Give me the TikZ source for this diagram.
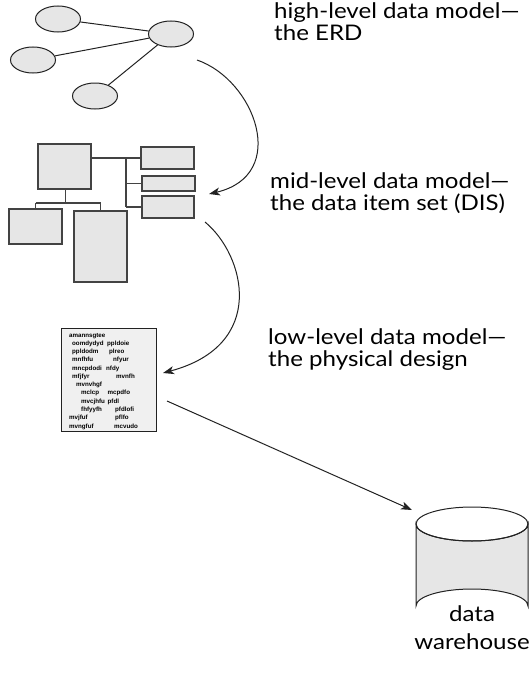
\documentclass[tikz,border=0pt]{standalone}
\usepackage{fontspec}
\setmainfont{Lato}[FakeStretch=1.12]
\newfontfamily\docfont{Liberation Sans}
\usetikzlibrary{arrows.meta,shapes.geometric}
\definecolor{boxfill}{HTML}{E6E6E6}
\definecolor{docfill}{HTML}{F0F0F0}
\definecolor{ink}{HTML}{222222}
\tikzset{
  entity/.style={ellipse, draw=ink, fill=boxfill, line width=1pt, minimum width=45pt, minimum height=26pt, inner sep=0pt},
  rel/.style={draw=ink, line width=1pt},
  item/.style={rectangle, draw=ink!85, fill=boxfill, line width=1.4pt, inner sep=0pt},
  link/.style={draw=ink!85, line width=1.6pt},
  flow/.style={draw=ink, line width=1pt, -{Stealth[length=11pt, width=8pt, inset=3pt]}},
  label/.style={anchor=base west, align=left, font=\fontsize{21.5}{22}\selectfont, inner sep=0pt},
  doctext/.style={anchor=base west, inner sep=0pt, font=\docfont\bfseries\fontsize{6.2}{6.5}\selectfont},
}
\begin{document}
\begin{tikzpicture}[x=1pt, y=-1pt]
\useasboundingbox (0,0) rectangle (530,680);

% high-level model: entity-relationship sketch
\node[entity] (e1) at (58,19) {};
\node[entity] (e2) at (171,34) {};
\node[entity] (e3) at (33,60) {};
\node[entity] (e4) at (95,96) {};
\draw[rel] (e1) -- (e2);
\draw[rel] (e3) -- (e2);
\draw[rel] (e4) -- (e2);

% mid-level model: data item set
\node[item, minimum width=53pt, minimum height=45pt] (big) at (64.5,166.5) {};
\node[item, minimum width=53pt, minimum height=22pt] (r1) at (167.5,158) {};
\node[item, minimum width=53pt, minimum height=15pt] (r2) at (168.5,183.5) {};
\node[item, minimum width=52pt, minimum height=22pt] (r3) at (168,207) {};
\node[item, minimum width=53pt, minimum height=35pt] (bl) at (35.5,226.5) {};
\node[item, minimum width=53pt, minimum height=71pt] (br) at (100.5,246.5) {};
\coordinate (bartop) at (126,158);
\coordinate (barbot) at (126,207);
\coordinate (fork) at (65.5,203);
\draw[link] (big.east |- r1.west) -- (r1.west);
\draw[link] (bartop) -- (barbot);
\draw[link] (r2.west -| bartop) -- (r2.west);
\draw[link] (barbot) -- (r3.west);
\draw[link] (big.south -| fork) -- (fork);
\draw[link] (bl.north |- fork) -- (br.north |- fork);
\draw[link] (bl.north |- fork) -- (bl.north);
\draw[link] (br.north |- fork) -- (br.north);

% low-level model: physical design listing
\node[rectangle, draw=ink, fill=docfill, line width=1pt, minimum width=95pt, minimum height=103pt, inner sep=0pt] (doc) at (108.5,379.5) {};
\node[doctext] (t1) at (69,337) {amannsgtee};
\node[doctext] (t2a) at (72,345.3) {oomdydyd};
\node[doctext] (t2b) at (107,345.3) {ppldoie};
\node[doctext] (t3a) at (72,353.5) {ppldodm};
\node[doctext] (t3b) at (109,353.5) {plreo};
\node[doctext] (t4a) at (72,361.8) {mnfhfu};
\node[doctext] (t4b) at (113,361.8) {nfyur};
\node[doctext] (t5a) at (72,370.1) {mncpdodi};
\node[doctext] (t5b) at (106,370.1) {nfdy};
\node[doctext] (t6a) at (72,378.4) {mfjfyr};
\node[doctext] (t6b) at (116,378.4) {mvnfh};
\node[doctext] (t7) at (76,386.6) {mvnvhgf};
\node[doctext] (t8a) at (81,394.9) {mclcp};
\node[doctext] (t8b) at (107.5,394.9) {mcpdfo};
\node[doctext] (t9a) at (81,403.2) {mvcjhfu};
\node[doctext] (t9b) at (107.5,403.2) {pfdl};
\node[doctext] (t10a) at (81,411.4) {fhfyyfh};
\node[doctext] (t10b) at (115,411.4) {pfdlofi};
\node[doctext] (t11a) at (69,419.7) {mvjfuf};
\node[doctext] (t11b) at (115,419.7) {pflfo};
\node[doctext] (t12a) at (69,428) {mvngfuf};
\node[doctext] (t12b) at (114,428) {mcvudo};

% data warehouse drum
\path[draw=ink, fill=boxfill, line width=1pt]
  (416,524) -- (416,606) arc[start angle=180, end angle=360, x radius=56, y radius=17]
  -- (528,524) arc[start angle=0, end angle=180, x radius=56, y radius=17] -- cycle;
\draw[ink, line width=1pt] (472,524) ellipse[x radius=56, y radius=17];
\node[anchor=base, align=center, font=\fontsize{21.5}{28}\selectfont, inner sep=0pt] (dwlabel) at (472,649) {data\\warehouse};

% level captions
\node[label] (cap1) at (274,40) {high-level data model—\\the ERD};
\node[label] (cap2) at (270,210) {mid-level data model—\\the data item set (DIS)};
\node[label] (cap3) at (268,366) {low-level data model—\\the physical design};

% transitions between levels
\coordinate (s1) at (197,60);
\coordinate (t1end) at (209,194);
\coordinate (s2) at (205,222);
\coordinate (t2end) at (163,373);
\coordinate (s3) at (167,401);
\coordinate (dwtop) at (412,510);
\draw[flow] (s1) .. controls (255,80) and (290,175) .. (t1end);
\draw[flow] (s2) .. controls (245,255) and (268,345) .. (t2end);
\draw[flow] (s3) -- (dwtop);
\end{tikzpicture}
\end{document}
